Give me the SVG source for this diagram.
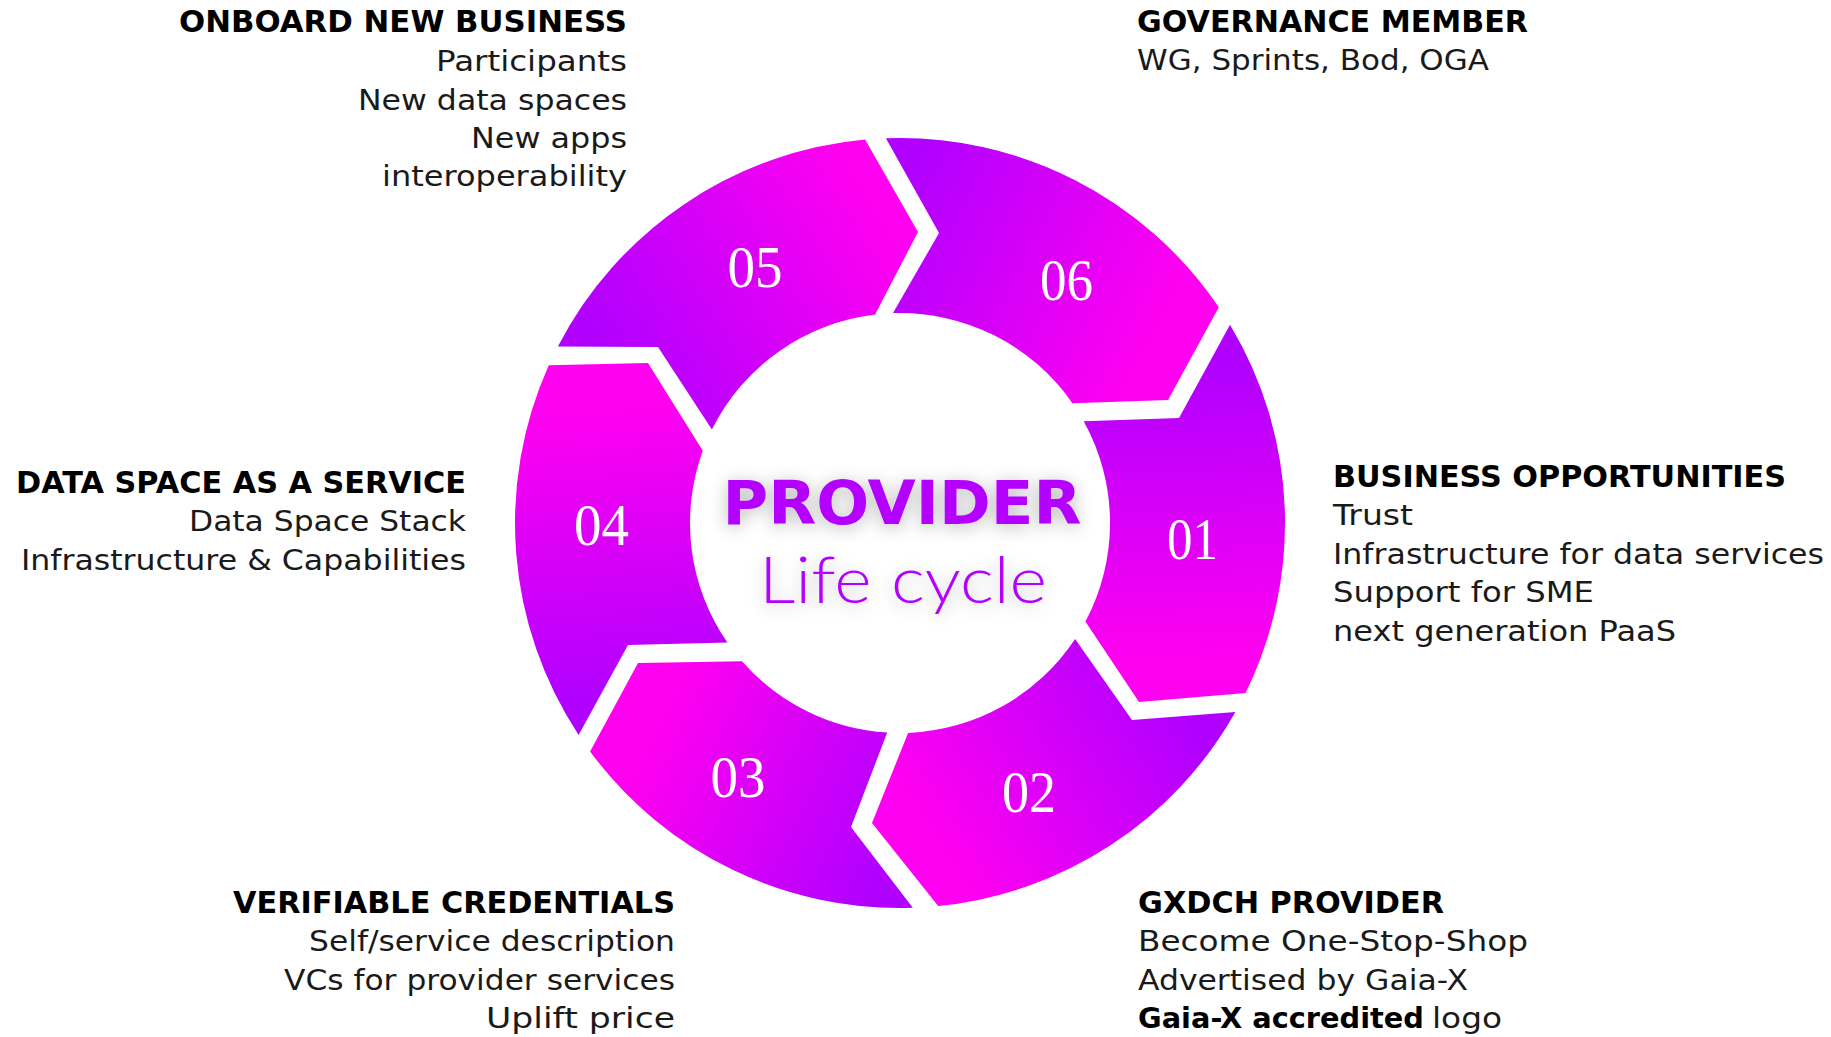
<svg xmlns="http://www.w3.org/2000/svg" width="1831" height="1037" viewBox="0 0 1831 1037">
<defs>
<style>
.h{font-family:'DejaVu Sans','Liberation Sans',sans-serif;font-weight:bold;font-size:29.5px;fill:#000}
.b{font-family:'DejaVu Sans','Liberation Sans',sans-serif;font-size:27.5px;fill:#1a1a1a}
.e{text-anchor:end}
.num{font-family:'Liberation Serif','DejaVu Serif',serif;font-size:60px;fill:#fff;text-anchor:middle}
.seg{stroke:none}
</style>
<linearGradient id="g05" gradientUnits="userSpaceOnUse" x1="635" y1="388" x2="890" y2="228"><stop offset="0" stop-color="#b200ff"/><stop offset="1" stop-color="#ff00f0"/></linearGradient>
<linearGradient id="g06" gradientUnits="userSpaceOnUse" x1="889" y1="226" x2="1145" y2="355"><stop offset="0" stop-color="#b200ff"/><stop offset="1" stop-color="#ff00f0"/></linearGradient>
<linearGradient id="g01" gradientUnits="userSpaceOnUse" x1="1157" y1="373" x2="1165" y2="657"><stop offset="0" stop-color="#b200ff"/><stop offset="1" stop-color="#ff00f0"/></linearGradient>
<linearGradient id="g02" gradientUnits="userSpaceOnUse" x1="1155" y1="675" x2="923" y2="820"><stop offset="0" stop-color="#b200ff"/><stop offset="1" stop-color="#ff00f0"/></linearGradient>
<linearGradient id="g03" gradientUnits="userSpaceOnUse" x1="900" y1="820" x2="666" y2="706"><stop offset="0" stop-color="#b200ff"/><stop offset="1" stop-color="#ff00f0"/></linearGradient>
<linearGradient id="g04" gradientUnits="userSpaceOnUse" x1="653" y1="689" x2="626" y2="408"><stop offset="0" stop-color="#b200ff"/><stop offset="1" stop-color="#ff00f0"/></linearGradient>
<filter id="soft" x="-30%" y="-60%" width="160%" height="220%">
<feGaussianBlur in="SourceAlpha" stdDeviation="9"/>
<feOffset dy="3"/>
<feComponentTransfer><feFuncA type="linear" slope="0.28"/></feComponentTransfer>
<feMerge><feMergeNode/><feMergeNode in="SourceGraphic"/></feMerge>
</filter>
</defs>
<rect width="1831" height="1037" fill="#fff"/>

<g id="ring">
<g id="seg-05">
<path class="seg" fill="url(#g05)" d="M 557.9 346.4 A 385 385 0 0 1 865.1 139.6 L 918 232 L 875.1 314.5 A 210 210 0 0 0 711.9 429.6 L 658 347 Z"/>
<text class="num" x="755" y="286.5" textLength="55" lengthAdjust="spacingAndGlyphs">05</text>
</g>
<g id="seg-06">
<path class="seg" fill="url(#g06)" d="M 885.9 138.3 A 385 385 0 0 1 1218.8 307.2 L 1168 400 L 1072.4 403.2 A 210 210 0 0 0 893.0 313.1 L 939 233 Z"/>
<text class="num" x="1066.5" y="300" textLength="53" lengthAdjust="spacingAndGlyphs">06</text>
</g>
<g id="seg-01">
<path class="seg" fill="url(#g01)" d="M 1230.0 324.7 A 385 385 0 0 1 1245.5 693.0 L 1139 702 L 1085.4 621.6 A 210 210 0 0 0 1083.7 421.2 L 1179 418 Z"/>
<text class="num" x="1192.5" y="559" textLength="51" lengthAdjust="spacingAndGlyphs">01</text>
</g>
<g id="seg-02">
<path class="seg" fill="url(#g02)" d="M 1235.4 712.0 A 385 385 0 0 1 938.2 906.1 L 872 823 L 908.1 732.9 A 210 210 0 0 0 1075.1 638.9 L 1132 720 Z"/>
<text class="num" x="1029" y="812" textLength="54" lengthAdjust="spacingAndGlyphs">02</text>
</g>
<g id="seg-03">
<path class="seg" fill="url(#g03)" d="M 912.8 907.8 A 385 385 0 0 1 590.1 751.5 L 638 663 L 742.0 661.3 A 210 210 0 0 0 887.2 732.6 L 851 827 Z"/>
<text class="num" x="738" y="797" textLength="55" lengthAdjust="spacingAndGlyphs">03</text>
</g>
<g id="seg-04">
<path class="seg" fill="url(#g04)" d="M 578.6 734.9 A 385 385 0 0 1 548.8 365.2 L 648 363 L 702.8 450.8 A 210 210 0 0 0 727.4 642.6 L 628 645 Z"/>
<text class="num" x="601.5" y="545" textLength="55" lengthAdjust="spacingAndGlyphs">04</text>
</g>
</g>

<g id="center" filter="url(#soft)">
<text x="902" y="524" text-anchor="middle" textLength="359" lengthAdjust="spacingAndGlyphs" style="font-family:'DejaVu Sans','Liberation Sans',sans-serif;font-weight:bold;font-size:61px;fill:#b300ff">PROVIDER</text>
<text x="903" y="603" text-anchor="middle" textLength="288" lengthAdjust="spacingAndGlyphs" style="font-family:Lato,'DejaVu Sans',sans-serif;font-weight:300;font-size:65px;fill:#b300ff">Life cycle</text>
</g>

<g id="label-05">
<text class="h e" x="627" y="32" textLength="448" lengthAdjust="spacingAndGlyphs">ONBOARD NEW BUSINESS</text>
<text class="b e" x="627" y="71" textLength="191" lengthAdjust="spacingAndGlyphs">Participants</text>
<text class="b e" x="627" y="110" textLength="269" lengthAdjust="spacingAndGlyphs">New data spaces</text>
<text class="b e" x="627" y="148" textLength="156" lengthAdjust="spacingAndGlyphs">New apps</text>
<text class="b e" x="627" y="186" textLength="245" lengthAdjust="spacingAndGlyphs">interoperability</text>
</g>

<g id="label-06">
<text class="h" x="1137" y="32" textLength="391" lengthAdjust="spacingAndGlyphs">GOVERNANCE MEMBER</text>
<text class="b" x="1137" y="70" textLength="352" lengthAdjust="spacingAndGlyphs">WG, Sprints, Bod, OGA</text>
</g>

<g id="label-01">
<text class="h" x="1333" y="487" textLength="453" lengthAdjust="spacingAndGlyphs">BUSINESS OPPORTUNITIES</text>
<text class="b" x="1333" y="525" textLength="80" lengthAdjust="spacingAndGlyphs">Trust</text>
<text class="b" x="1333" y="564" textLength="491" lengthAdjust="spacingAndGlyphs">Infrastructure for data services</text>
<text class="b" x="1333" y="602" textLength="261" lengthAdjust="spacingAndGlyphs">Support for SME</text>
<text class="b" x="1333" y="641" textLength="343" lengthAdjust="spacingAndGlyphs">next generation PaaS</text>
</g>

<g id="label-04">
<text class="h e" x="466" y="493" textLength="450" lengthAdjust="spacingAndGlyphs">DATA SPACE AS A SERVICE</text>
<text class="b e" x="466" y="531" textLength="277" lengthAdjust="spacingAndGlyphs">Data Space Stack</text>
<text class="b e" x="466" y="570" textLength="445" lengthAdjust="spacingAndGlyphs">Infrastructure &amp; Capabilities</text>
</g>

<g id="label-03">
<text class="h e" x="675" y="913" textLength="442" lengthAdjust="spacingAndGlyphs">VERIFIABLE CREDENTIALS</text>
<text class="b e" x="675" y="951" textLength="366" lengthAdjust="spacingAndGlyphs">Self/service description</text>
<text class="b e" x="675" y="990" textLength="391" lengthAdjust="spacingAndGlyphs">VCs for provider services</text>
<text class="b e" x="675" y="1028" textLength="189" lengthAdjust="spacingAndGlyphs">Uplift price</text>
</g>

<g id="label-02">
<text class="h" x="1138" y="913" textLength="306" lengthAdjust="spacingAndGlyphs">GXDCH PROVIDER</text>
<text class="b" x="1138" y="951" textLength="390" lengthAdjust="spacingAndGlyphs">Become One-Stop-Shop</text>
<text class="b" x="1138" y="990" textLength="330" lengthAdjust="spacingAndGlyphs">Advertised by Gaia-X</text>
<text class="h" x="1138" y="1028" textLength="286" lengthAdjust="spacingAndGlyphs" style="font-size:28.5px">Gaia-X accredited</text>
<text class="b" x="1432" y="1028" textLength="70" lengthAdjust="spacingAndGlyphs">logo</text>
</g>
</svg>
